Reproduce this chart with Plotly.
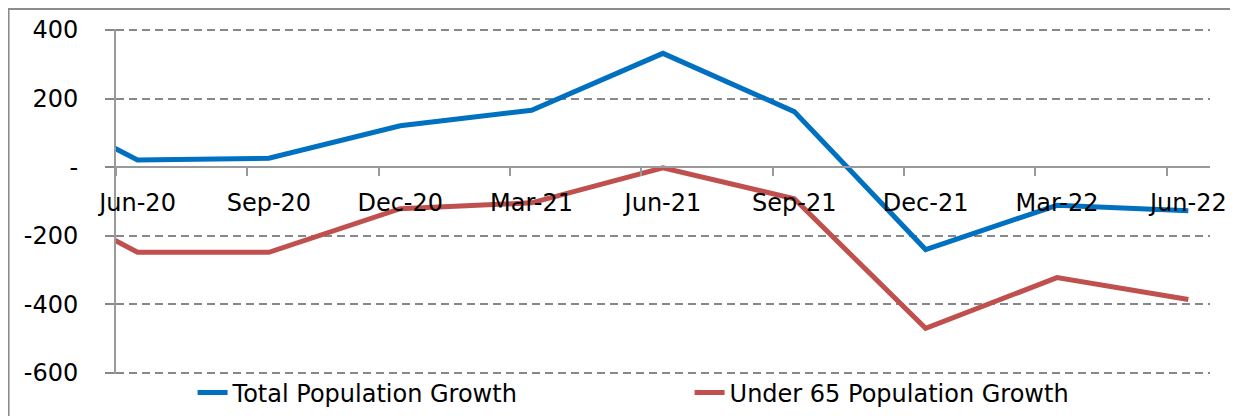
import plotly.graph_objects as go

# quarterly series; Mar-20 sits just left of the visible range (line enters clipped)
quarters = ["Mar-20", "Jun-20", "Sep-20", "Dec-20", "Mar-21", "Jun-21",
            "Sep-21", "Dec-21", "Mar-22", "Jun-22"]
total_growth = [218, 21, 26, 121, 166, 332, 162, -240, -111, -127]
under65_growth = [-46, -248, -248, -121, -104, -2, -92, -470, -322, -386]

y_ticks = [400, 200, 0, -200, -400, -600]
y_labels = ["400", "200", "-", "-200", "-400", "-600"]

xpos = list(range(-1, len(quarters) - 1))
shown = [(p, q) for p, q in zip(xpos, quarters) if p >= 0]

FONT = "DejaVu Sans"
GRID = "#888888"
AXIS = "#9a9a9a"

fig = go.Figure()
fig.add_trace(go.Scatter(x=xpos, y=total_growth, mode="lines", name="Total Population Growth",
                         line=dict(color="#0070C0", width=5)))
fig.add_trace(go.Scatter(x=xpos, y=under65_growth, mode="lines", name="Under 65 Population Growth",
                         line=dict(color="#C0504D", width=5)))

# page body adds an 8px offset, so the figure is drawn 8px smaller
fig.update_layout(
    width=1230, height=408, autosize=False,
    margin=dict(l=108, r=28, t=21, b=42, autoexpand=False),
    paper_bgcolor="white", plot_bgcolor="white",
    font=dict(family=FONT, size=24, color="black"),
    showlegend=True,
    legend=dict(orientation="h", x=0.07, xanchor="left", y=-0.055, yanchor="middle",
                entrywidth=452, entrywidthmode="pixels", bgcolor="rgba(0,0,0,0)",
                font=dict(family=FONT, size=24), itemwidth=30),
    xaxis=dict(
        range=[-0.164, 8.165], anchor="free", position=0.6,
        tickmode="array", tickvals=[p for p, _ in shown], ticktext=[q for _, q in shown],
        ticks="", showgrid=False, zeroline=False,
        showline=True, linecolor=AXIS, linewidth=2,
        ticklabelstandoff=14,
        minor=dict(tickmode="linear", tick0=-0.164, dtick=1, ticks="outside",
                   ticklen=8, tickwidth=2, tickcolor=AXIS, showgrid=False),
    ),
    yaxis=dict(
        range=[-603, 403], tickmode="array", tickvals=y_ticks, ticktext=y_labels,
        showgrid=True, gridcolor=GRID, gridwidth=2, griddash="8px,5px",
        zeroline=False, showline=True, linecolor=AXIS, linewidth=2,
        ticks="outside", ticklen=9, tickwidth=2, tickcolor=GRID,
        ticklabelstandoff=22,
    ),
    shapes=[dict(type="rect", xref="paper", yref="paper", x0=-0.0982, x1=1.021,
                 y0=-0.2, y1=1.058, line=dict(color="#8c8c8c", width=2), layer="below")],
)

fig.write_html("out.html")
